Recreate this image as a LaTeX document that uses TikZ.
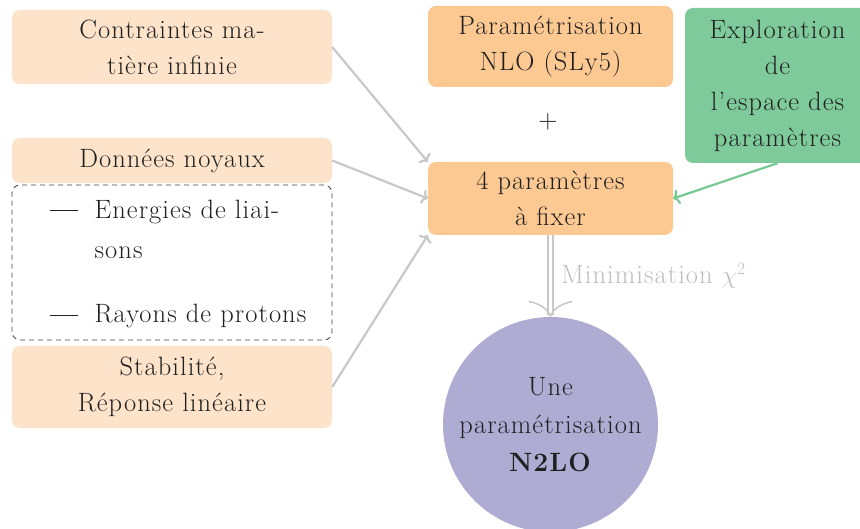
\documentclass[tikz,border=0pt]{standalone}
\usepackage{fontspec}
\setmainfont{Latin Modern Roman}[LetterSpace=4]
\usetikzlibrary{arrows.meta}
\definecolor{peach}{RGB}{253,227,201}
\definecolor{orange2}{RGB}{253,201,146}
\definecolor{greenbox}{RGB}{127,202,155}
\definecolor{purplec}{RGB}{175,172,212}
\definecolor{arrowgray}{RGB}{200,200,200}
\definecolor{txt}{RGB}{32,32,32}
\definecolor{labgray}{RGB}{190,190,190}
\definecolor{greenarr}{RGB}{120,200,150}
\newcommand{\itemdash}{\rule[7pt]{28pt}{1.3pt}}
\tikzset{
  base/.style={rounded corners=8pt, inner sep=0pt, align=center, text=txt,
    font=\fontsize{26.5}{36}\selectfont},
  lightbox/.style={base, fill=peach, minimum width=320pt},
  darkbox/.style={base, fill=orange2, minimum width=245pt},
  greenbx/.style={base, fill=greenbox, minimum width=185pt, minimum height=155pt},
  dashbox/.style={base, draw=black!75, dashed, line width=0.8pt, dash pattern=on 5pt off 4pt,
    minimum width=320pt, minimum height=155pt},
  garrow/.style={draw=arrowgray, line width=2.2pt, -{To[length=6pt,width=15pt]}},
  grarrow/.style={draw=greenarr, line width=2.2pt, -{To[length=6pt,width=15pt]}},
  minarrow/.style={draw=arrowgray, line width=1.6pt, double=white, double distance=3pt,
    -{To[length=16pt,width=44pt]}},
}
\begin{document}
\begin{tikzpicture}[x=1pt,y=-1pt]
\useasboundingbox (0,0) rectangle (860,529);
\clip (0,0) rectangle (860,529);
\node[lightbox, minimum height=74pt] (c1) at (172,47) {Contraintes ma-\\tière infinie};
\node[lightbox, minimum height=45pt] (don) at (172,160.5) {Données noyaux};
\node[dashbox] (dash) at (172,262.5) {%
  \def\arraystretch{1.12}%
  \begin{tabular}{@{\hspace{12pt}}l@{\hspace{17pt}}l@{}}
  \itemdash & Energies de liai-\\
    & sons\\[24pt]
  \itemdash & Rayons de protons
  \end{tabular}};
\node[lightbox, minimum height=82pt] (stab) at (172,387) {Stabilité,\\Réponse linéaire};
\node[darkbox, minimum height=81pt] (nlo) at (550.5,46.5) {Paramétrisation\\NLO (SLy5)};
\node[base] (plus) at (548,122) {+};
\node[darkbox, minimum height=73pt] (four) at (550.5,198.5) {4 paramètres\\à fixer};
\node[greenbx] (expl) at (777.5,85.5) {Exploration\\de\\l’espace des\\paramètres};
\node[base, circle, fill=purplec, minimum size=215pt] (circ) at (550.5,424.5)
  {Une\\[2pt]paramétrisation\\[2pt]\textbf{N2LO}};
\draw[garrow] (c1.east) -- (four.north west);
\draw[garrow] (don.east) -- (four.west);
\draw[garrow] (stab.east) -- (four.south west);
\draw[grarrow] (expl.south) -- (four.east);
\draw[minarrow] (four.south) -- (circ.north)
  node[midway, right, inner sep=10pt, text=labgray, font=\fontsize{26.5}{30}\selectfont] (lab) {Minimisation $\chi^2$};
\end{tikzpicture}
\end{document}
